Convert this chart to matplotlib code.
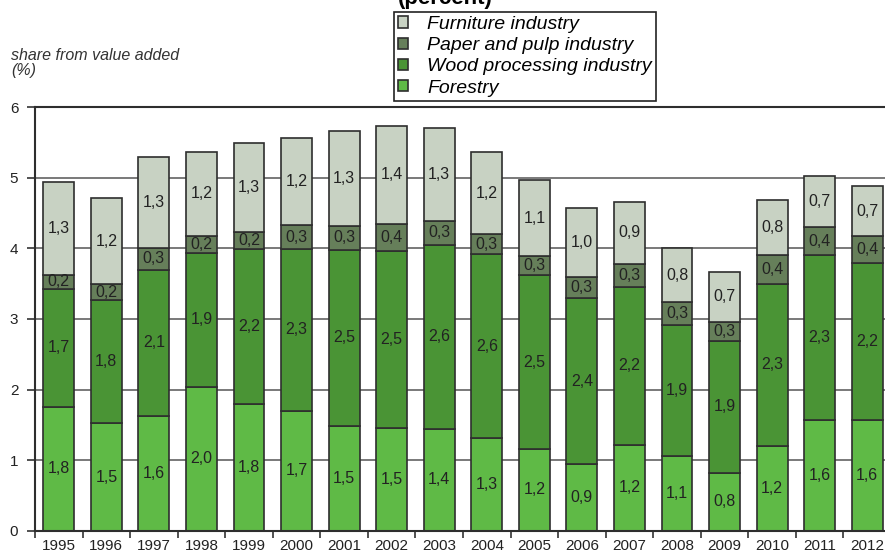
import matplotlib.pyplot as plt
import numpy as np

plt.rcParams['font.family'] = ['Liberation Sans', 'DejaVu Sans']

years = ["1995", "1996", "1997", "1998", "1999", "2000", "2001", "2002", "2003",
         "2004", "2005", "2006", "2007", "2008", "2009", "2010", "2011", "2012"]

forestry = [1.76, 1.52, 1.62, 2.04, 1.80, 1.70, 1.49, 1.46, 1.44,
            1.31, 1.16, 0.94, 1.22, 1.06, 0.82, 1.20, 1.57, 1.57]
wood = [1.66, 1.75, 2.08, 1.90, 2.19, 2.29, 2.49, 2.51, 2.61,
        2.61, 2.46, 2.36, 2.23, 1.86, 1.87, 2.30, 2.33, 2.23]
paper = [0.21, 0.22, 0.31, 0.24, 0.24, 0.34, 0.34, 0.38, 0.34,
         0.28, 0.27, 0.29, 0.33, 0.32, 0.27, 0.40, 0.40, 0.37]
furniture = [1.31, 1.22, 1.29, 1.19, 1.27, 1.24, 1.34, 1.39, 1.32,
             1.16, 1.08, 0.98, 0.88, 0.76, 0.71, 0.79, 0.72, 0.71]

series = [
    ("Forestry", forestry, "#5fba46"),
    ("Wood processing industry", wood, "#4a9435"),
    ("Paper and pulp industry", paper, "#667f5a"),
    ("Furniture industry", furniture, "#c8d2c3"),
]

fig = plt.figure(figsize=(8.85, 5.56), dpi=100)
# axes run past the right edge, so the last bar is cut off
ax = fig.add_axes([35 / 885, 25.3 / 556, 856 / 885, 423.4 / 556])

x = np.arange(len(years))
bottom = np.zeros(len(years))
handles = []
for name, vals, col in series:
    vals = np.array(vals)
    bars = ax.bar(x, vals, 0.65, bottom=bottom, color=col, edgecolor="#2e2e2e",
                  linewidth=1.2, label=name)
    handles.append(bars)
    for xi, b, v in zip(x, bottom, vals):
        ax.text(xi, b + v / 2, f"{v:.1f}".replace(".", ","), ha="center",
                va="center", fontsize=11.5, color="#222222")
    bottom += vals

ax.set_xlim(-0.5, len(years) - 0.5)
ax.set_ylim(0, 6)
ax.set_axisbelow(True)
ax.yaxis.grid(True, color="#6e6e6e", linewidth=1.3)

ax.set_xticks(x)
ax.set_xticklabels(years, fontsize=11, color="#222222")
ax.set_xticks(np.arange(len(years) + 1) - 0.5, minor=True)
ax.tick_params(axis="x", which="major", length=0, pad=6)
ax.tick_params(axis="x", which="minor", length=5, width=1.2, color="#333333")
ax.set_yticks(range(7))
ax.tick_params(axis="y", length=6, width=1.2, color="#333333", labelsize=11,
               labelcolor="#222222", pad=6)

for side in ["left", "bottom", "top"]:
    ax.spines[side].set_color("#2e2e2e")
    ax.spines[side].set_linewidth(1.5)
ax.spines["right"].set_visible(False)

fig.text(11 / 885, 1 - 63 / 556, "share from value added\n(%)", fontsize=11.5,
         style="italic", color="#333333", va="center", linespacing=1.05)

fig.text(445 / 885, 1 - 4 / 556, "(percent)", fontsize=16, fontweight="bold",
         ha="center", va="baseline")

leg = fig.legend(handles[::-1], [s[0] for s in series][::-1],
                 loc="upper left", bbox_to_anchor=(394 / 885, 1 - 12 / 556),
                 prop={"style": "italic", "size": 14},
                 handlelength=0.5, handleheight=0.5, handletextpad=1.0,
                 labelspacing=0.22, borderpad=0.2, borderaxespad=0,
                 fancybox=False, framealpha=1, edgecolor="#222222")
leg.get_frame().set_linewidth(1.2)

fig.savefig("out.png", dpi=100)
